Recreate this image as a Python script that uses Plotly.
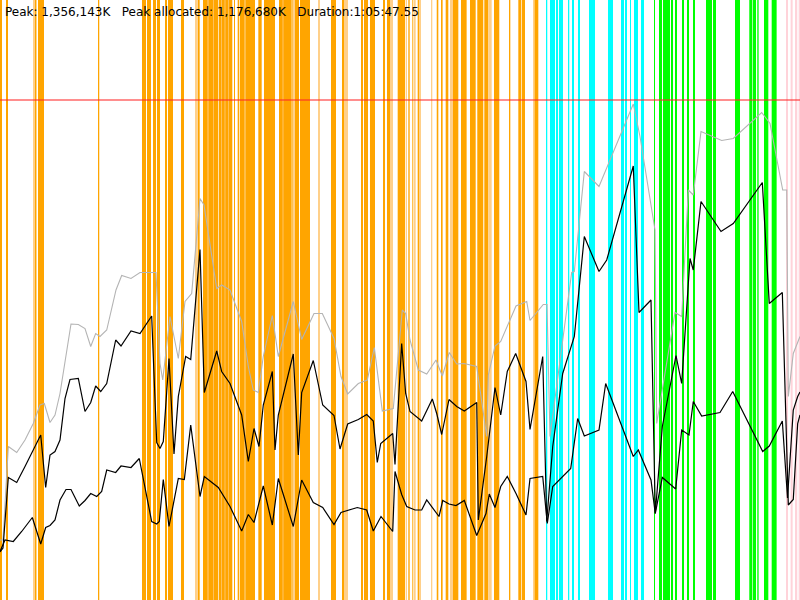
import plotly.graph_objects as go

# x: percent of run duration, y: percent of peak memory (peak = 100)
PEAK_K = 1356143
PEAK_ALLOC_K = 1176680
DURATION = "1:05:47.55"
PEAK_PCT = 100
Y_MAX = 120

grey_x = [0, 0.375, 1.04, 2.09, 3.125, 4.16, 5.0, 5.54, 6.25, 6.875, 7.5, 8.125, 8.875, 9.79, 10.625,
          11.34, 11.96, 12.5, 13.34, 14.5, 15.21, 16.375, 17.5, 19.5, 20.0, 20.34, 20.84, 21.25, 22.29,
          23.125, 23.96, 25.0, 25.5, 27.09, 27.71, 28.75, 30.21, 31.04, 31.66, 32.29, 32.91, 34.04, 34.79,
          36.66, 37.71, 39.25, 40.29, 41.75, 42.625, 43.46, 44.79, 45.91, 46.79, 47.79, 49.16, 50.29, 50.71,
          51.25, 52.29, 53.34, 54.5, 55.29, 56.16, 57.09, 58.0, 59.59, 60.84, 61.04, 61.875, 62.59, 64.5,
          65.84, 66.25, 67.91, 68.375, 68.75, 71.46, 71.79, 73.04, 74.875, 79.16, 80.0, 81.875, 82.09,
          84.375, 85.21, 86.04, 86.66, 87.625, 90.21, 91.66, 95.21, 96.25, 97.84, 98.34, 98.54, 99.16, 100]
grey_y = [12.0, 12.0, 30.7, 29.5, 32.0, 35.3, 39.0, 39.3, 35.5, 37.0, 41.3, 47.3, 55.2, 55.1, 54.3,
          50.7, 53.3, 52.7, 54.0, 62.0, 64.9, 64.3, 65.5, 65.5, 47.3, 44.0, 50.7, 56.7, 48.3,
          59.7, 61.3, 80.3, 79.0, 62.3, 63.0, 62.0, 55.7, 46.7, 42.0, 41.5, 48.7, 56.9, 48.7,
          59.7, 52.1, 57.3, 57.3, 52.3, 44.7, 41.2, 43.3, 44.0, 50.5, 37.8, 38.3, 58.0, 57.3,
          52.0, 46.0, 45.2, 48.0, 44.8, 49.5, 47.2, 47.3, 46.7, 32.7, 45.0, 50.8, 51.7, 58.8,
          59.7, 55.9, 59.1, 59.1, 32.7, 65.5, 65.7, 85.7, 82.7, 99.2, 92.7, 74.0, 35.3,
          57.5, 56.7, 82.0, 81.0, 93.7, 91.9, 92.3, 97.5, 95.3, 82.0, 82.0, 40.7, 49.3, 52.7]

upper_x = [0, 0.375, 1.04, 2.09, 3.125, 4.16, 5.09, 5.71, 6.25, 6.875, 7.5, 8.125, 8.75, 9.79, 10.625,
           11.34, 11.96, 12.59, 13.34, 14.46, 15.125, 16.375, 17.5, 18.96, 19.59, 20.0, 20.41, 21.125,
           21.75, 22.29, 23.21, 23.84, 25.0, 25.54, 27.09, 27.71, 28.75, 30.21, 31.04, 31.75, 32.375,
           32.91, 34.04, 34.375, 34.79, 36.66, 37.29, 37.71, 39.16, 40.34, 41.75, 42.5, 43.46, 44.79,
           45.84, 46.66, 47.16, 47.59, 49.09, 49.375, 50.21, 50.71, 51.25, 52.71, 54.04, 54.59, 55.21,
           56.125, 57.09, 58.04, 59.59, 59.79, 60.84, 61.875, 62.59, 63.41, 64.46, 65.75, 66.25, 67.84,
           68.34, 69.09, 70.34, 71.79, 73.04, 74.875, 75.84, 79.16, 79.875, 81.375, 81.91, 82.79, 84.5,
           85.21, 86.25, 86.66, 87.625, 90.125, 91.66, 95.29, 96.16, 97.79, 98.54, 99.16, 99.71, 100]
upper_y = [9.6, 10.4, 24.5, 23.5, 26.7, 30.0, 33.0, 22.5, 29.0, 29.7, 32.0, 40.3, 44.1, 44.3, 37.7,
           39.5, 42.8, 41.7, 43.3, 52.0, 50.8, 53.8, 53.3, 56.8, 31.5, 30.3, 31.7, 48.3,
           29.2, 40.7, 48.7, 48.1, 70.1, 41.5, 49.8, 45.7, 43.3, 37.0, 27.7, 34.3, 30.7,
           39.0, 45.7, 30.0, 37.0, 49.2, 29.0, 41.5, 47.9, 39.0, 36.9, 30.2, 35.2, 36.1,
           37.1, 35.8, 27.5, 31.3, 33.3, 27.1, 51.3, 41.3, 37.7, 35.8, 40.2, 37.3, 33.1,
           40.1, 38.7, 37.8, 39.5, 16.0, 28.7, 42.5, 37.0, 45.7, 49.3, 43.7, 34.1, 48.7,
           15.7, 30.7, 45.3, 52.7, 72.7, 65.7, 68.0, 86.8, 57.5, 60.0, 17.3, 34.7, 48.9,
           43.3, 68.3, 66.0, 79.7, 73.7, 75.3, 83.5, 59.3, 61.5, 19.0, 20.1, 35.3, 37.0]

lower_x = [0, 0.625, 1.66, 2.71, 4.04, 5.09, 5.71, 6.25, 6.875, 7.5, 8.25, 8.875, 9.91, 10.625, 11.34,
           12.09, 12.71, 13.34, 14.46, 15.125, 16.375, 17.41, 18.96, 19.59, 19.91, 20.41, 21.125, 21.66,
           22.29, 23.04, 23.84, 25.0, 25.54, 27.29, 28.75, 30.21, 31.04, 31.75, 32.91, 34.04, 34.79,
           36.66, 37.71, 39.16, 40.34, 41.75, 42.625, 44.66, 45.84, 46.66, 47.625, 49.09, 49.375, 50.21,
           50.84, 51.875, 52.71, 53.34, 54.09, 54.875, 55.34, 56.125, 57.0, 58.04, 59.59, 60.75, 61.16,
           61.875, 62.59, 63.41, 64.5, 65.75, 66.25, 67.84, 68.41, 69.09, 71.34, 72.21, 73.04, 74.875,
           75.71, 79.16, 79.79, 81.375, 81.91, 82.79, 84.46, 85.21, 86.125, 86.66, 87.71, 90.0, 91.59,
           95.34, 96.16, 97.79, 98.44, 99.16, 99.71, 100]
lower_y = [9.7, 12.0, 11.7, 13.7, 16.5, 11.2, 14.5, 14.9, 16.0, 20.0, 22.1, 22.1, 18.8, 19.9, 21.3,
           20.7, 21.7, 26.0, 25.5, 26.8, 26.5, 28.3, 15.7, 15.2, 15.7, 24.1, 14.7, 19.3,
           24.3, 24.1, 35.0, 20.7, 24.7, 22.5, 18.7, 13.8, 17.1, 15.5, 22.8, 15.0, 24.3,
           14.7, 24.0, 19.5, 18.5, 15.1, 17.5, 18.5, 18.0, 13.8, 16.7, 13.7, 25.7, 21.1,
           18.7, 18.0, 18.0, 20.0, 18.3, 16.7, 19.9, 19.2, 18.9, 19.9, 12.9, 17.3, 21.2,
           18.5, 22.7, 24.7, 21.3, 17.0, 24.3, 24.7, 15.3, 22.7, 26.3, 36.3, 32.8, 34.0,
           43.3, 28.7, 30.0, 24.0, 17.3, 24.5, 22.2, 34.0, 33.0, 39.7, 36.8, 37.5, 41.7,
           29.7, 30.8, 35.8, 20.4, 38.0, 40.7, 41.6]

# activity periods (start, end) in percent of run
orange_periods = [(0, 0.25), (0.75, 1.0), (4.375, 4.56), (4.75, 5.5), (12.25, 12.41), (17.75, 18.25),
                  (18.375, 18.875), (19.125, 19.5), (19.625, 20.0), (20.625, 20.875), (21.0, 21.625),
                  (22.625, 23.0), (24.71, 24.96), (25.375, 27.29), (27.375, 29.04), (29.25, 29.375),
                  (29.71, 29.91), (30.0, 30.59), (30.66, 31.875), (32.29, 32.71), (33.0, 34.375),
                  (34.875, 36.46), (36.54, 36.625), (36.875, 37.375), (37.5, 38.75), (41.375, 42.0),
                  (42.75, 43.0), (45.125, 45.375), (45.5, 46.0), (46.25, 46.875), (47.875, 48.125),
                  (48.375, 48.75), (49.71, 50.625), (51.04, 51.21), (51.54, 51.66), (52.21, 52.375),
                  (54.59, 54.79), (55.125, 55.33), (55.71, 56.04), (56.625, 57.29), (57.625, 58.33),
                  (58.75, 59.46), (59.66, 60.41), (60.54, 61.04), (61.75, 62.41), (63.625, 63.79),
                  (64.79, 65.125), (65.21, 65.625), (66.79, 67.29)]
orange_light_periods = [(4.125, 4.375), (24.375, 24.71), (25.94, 26.06), (26.67, 26.75), (27.67, 27.75),
                        (28.08, 28.17), (28.5, 28.58), (35.33, 35.42), (36.625, 36.875), (39.75, 40.0),
                        (43.0, 43.5), (48.75, 49.125), (50.71, 50.875), (51.75, 51.96), (52.375, 52.625),
                        (53.875, 54.04), (56.25, 56.625), (61.04, 61.46), (66.625, 66.79)]
cyan_periods = [(68.25, 68.41), (68.75, 69.375), (69.5, 69.75), (69.875, 70.375), (71.0, 71.16),
                (71.5, 71.75), (72.25, 72.5), (73.625, 74.375), (76.0, 76.625), (77.625, 78.0),
                (78.125, 78.375), (78.75, 78.875), (79.25, 79.75), (80.125, 80.5)]
green_periods = [(81.75, 81.875), (82.375, 82.75), (82.875, 83.75), (83.875, 84.125), (84.375, 84.625),
                 (85.25, 85.5), (85.875, 86.125), (86.625, 86.875), (88.25, 89.0), (89.125, 89.5),
                 (91.875, 92.5), (93.66, 94.0), (94.08, 94.5), (94.66, 94.83), (95.5, 96.04), (96.46, 97.08)]
pink_periods = [(98.25, 98.5), (98.83, 99.08), (99.375, 99.66), (99.83, 100)]

band_colors = [
    (orange_periods, "#ffa500"),
    (orange_light_periods, "#ffd08a"),
    (cyan_periods, "#00ffff"),
    (green_periods, "#00ff00"),
    (pink_periods, "#ffd3da"),
]

fig = go.Figure()

shapes = []
for periods, col in band_colors:
    for a, b in periods:
        shapes.append(dict(type="rect", xref="x", yref="paper", x0=a, x1=b, y0=0, y1=1,
                           fillcolor=col, line=dict(width=0), layer="below"))
shapes.append(dict(type="line", xref="paper", yref="y", x0=0, x1=1, y0=PEAK_PCT, y1=PEAK_PCT,
                   line=dict(color="rgba(255,40,40,0.7)", width=1.5), layer="above"))

fig.add_trace(go.Scatter(x=grey_x, y=grey_y, mode="lines", line=dict(color="#b4b4b4", width=1.1),
                         hoverinfo="skip"))
fig.add_trace(go.Scatter(x=upper_x, y=upper_y, mode="lines", line=dict(color="black", width=1.2),
                         hoverinfo="skip"))
fig.add_trace(go.Scatter(x=lower_x, y=lower_y, mode="lines", line=dict(color="black", width=1.2),
                         hoverinfo="skip"))

sep = "\u00a0\u00a0 "
label = (f"Peak: {PEAK_K:,}K{sep}Peak allocated: {PEAK_ALLOC_K:,}K{sep}Duration:{DURATION}")

fig.update_layout(
    width=800, height=600,
    margin=dict(l=0, r=0, t=0, b=0),
    paper_bgcolor="white", plot_bgcolor="white",
    showlegend=False,
    shapes=shapes,
    xaxis=dict(range=[0, 100], visible=False, fixedrange=True),
    yaxis=dict(range=[0, Y_MAX], visible=False, fixedrange=True),
    annotations=[dict(text=label, xref="paper", yref="paper", x=0, y=1, xanchor="left", yanchor="top",
                      xshift=3, yshift=-3, showarrow=False,
                      font=dict(family="DejaVu Sans", size=12, color="black"))],
)

# page body margin would push the 800x600 figure off the window
fig.write_html("out.html", config={"displayModeBar": False},
               post_script="document.body.style.margin='0';")
